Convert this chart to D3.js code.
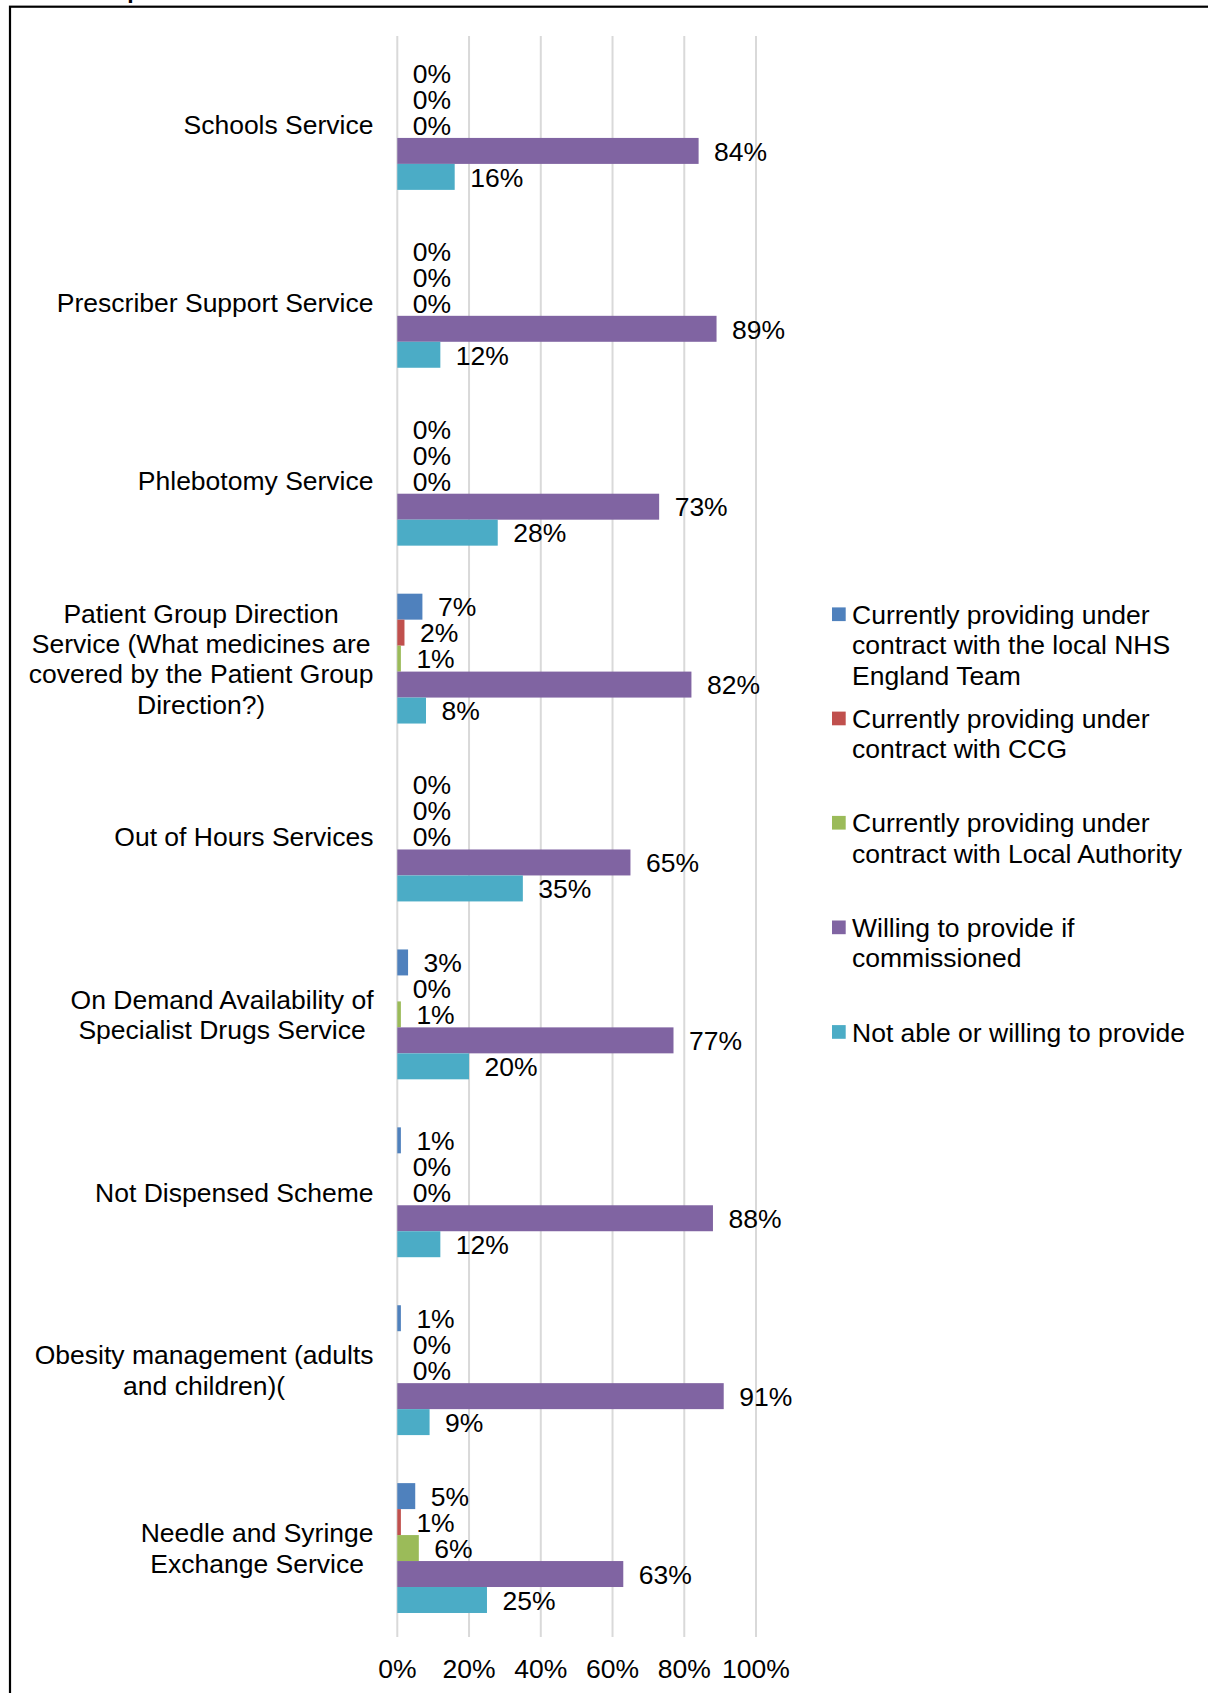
<!DOCTYPE html>
<html>
<head>
<meta charset="utf-8">
<script src="https://cdn.jsdelivr.net/npm/d3@7"></script>
<style>
html,body{margin:0;padding:0;background:#fff;}
svg{display:block;}
text{font-family:"Liberation Sans",Arial,sans-serif;fill:#000;}
</style>
</head>
<body>
<svg id="chart" width="1208" height="1693"></svg>
<script>
// ---- data ----
const categories = [
  ["Schools Service"],
  ["Prescriber Support Service"],
  ["Phlebotomy Service"],
  ["Patient Group Direction", "Service (What medicines are", "covered by the Patient Group", "Direction?)"],
  ["Out of Hours Services"],
  ["On Demand Availability of", "Specialist Drugs Service"],
  ["Not Dispensed Scheme"],
  ["Obesity management (adults", "and children)("],
  ["Needle and Syringe", "Exchange Service"]
];
const seriesNames = [
  ["Currently providing under", "contract with the local NHS", "England Team"],
  ["Currently providing under", "contract with CCG"],
  ["Currently providing under", "contract with Local Authority"],
  ["Willing to provide if", "commissioned"],
  ["Not able or willing to provide"]
];
const seriesColors = ["#4F81BD", "#C0504D", "#9BBB59", "#8064A2", "#4BACC6"];
const valuesNHS     = [0, 0, 0, 7, 0, 3, 1, 1, 5];
const valuesCCG     = [0, 0, 0, 2, 0, 0, 0, 0, 1];
const valuesLA      = [0, 0, 0, 1, 0, 1, 0, 0, 6];
const valuesWilling = [84, 89, 73, 82, 65, 77, 88, 91, 63];
const valuesNot     = [16, 12, 28, 8, 35, 20, 12, 9, 25];
const xTicks = [0, 20, 40, 60, 80, 100];
const titleText = "which the specific areas are covered";

const seriesValues = [valuesNHS, valuesCCG, valuesLA, valuesWilling, valuesNot];

// ---- layout ----
const svg = d3.select("#chart");
const FS = 26.5, LH = 30.4, CAP = 9.5;
const x = d3.scaleLinear().domain([0, 100]).range([397.3, 756]);
const y = d3.scaleBand().domain(d3.range(categories.length)).range([36, 1637])
  .paddingInner(0.27).paddingOuter(0.135);
const ys = d3.scaleBand().domain(d3.range(seriesValues.length)).range([0, y.bandwidth()]);

// cut-off title
svg.append("text").attr("x", 2).attr("y", -2.5)
  .attr("font-size", 23).attr("font-weight", "bold").text(titleText);

// border
svg.append("rect").attr("x", 10).attr("y", 6.7).attr("width", 1300).attr("height", 1800)
  .attr("fill", "none").attr("stroke", "#000").attr("stroke-width", 2.2);

// gridlines
svg.append("g").selectAll("line").data(xTicks).join("line")
  .attr("x1", d => x(d)).attr("x2", d => x(d))
  .attr("y1", 36).attr("y2", 1637)
  .attr("stroke", "#d9d9d9").attr("stroke-width", 2);

// bars
const groups = svg.append("g").selectAll("g").data(categories).join("g")
  .attr("transform", (d, i) => `translate(0,${y(i)})`);
groups.each(function (c, ci) {
  const g = d3.select(this);
  seriesValues.forEach((vals, si) => {
    const v = vals[ci];
    g.append("rect").attr("x", x(0)).attr("y", ys(si))
      .attr("width", x(v) - x(0)).attr("height", ys.bandwidth())
      .attr("fill", seriesColors[si]);
    g.append("text").attr("x", x(v) + 15.5)
      .attr("y", ys(si) + ys.bandwidth() / 2 + CAP + 0.3)
      .attr("font-size", FS).text(v + "%");
  });
});

// category labels
const rightEdge = 373.5;
categories.forEach((lines, ci) => {
  const cy = y(ci) + y.bandwidth() / 2;
  const t = svg.append("text").attr("font-size", FS).attr("text-anchor", "middle");
  const spans = lines.map((ln, li) => t.append("tspan")
    .attr("y", cy + (li - (lines.length - 1) / 2) * LH + CAP).text(ln));
  const maxW = d3.max(spans, s => s.node().getComputedTextLength());
  spans.forEach(s => s.attr("x", rightEdge - maxW / 2));
});

// x tick labels
svg.append("g").selectAll("text").data(xTicks).join("text")
  .attr("x", d => x(d)).attr("y", 1668 + CAP)
  .attr("text-anchor", "middle").attr("font-size", FS).text(d => d + "%");

// legend
const legY = [614.3, 718.5, 822.8, 927.4, 1032];
seriesNames.forEach((lines, si) => {
  svg.append("rect").attr("x", 832).attr("y", legY[si] - 6.9)
    .attr("width", 13.7).attr("height", 13.7).attr("fill", seriesColors[si]);
  const t = svg.append("text").attr("font-size", FS);
  lines.forEach((ln, li) => t.append("tspan").attr("x", 852)
    .attr("y", legY[si] + li * LH + CAP).text(ln));
});
</script>
</body>
</html>
